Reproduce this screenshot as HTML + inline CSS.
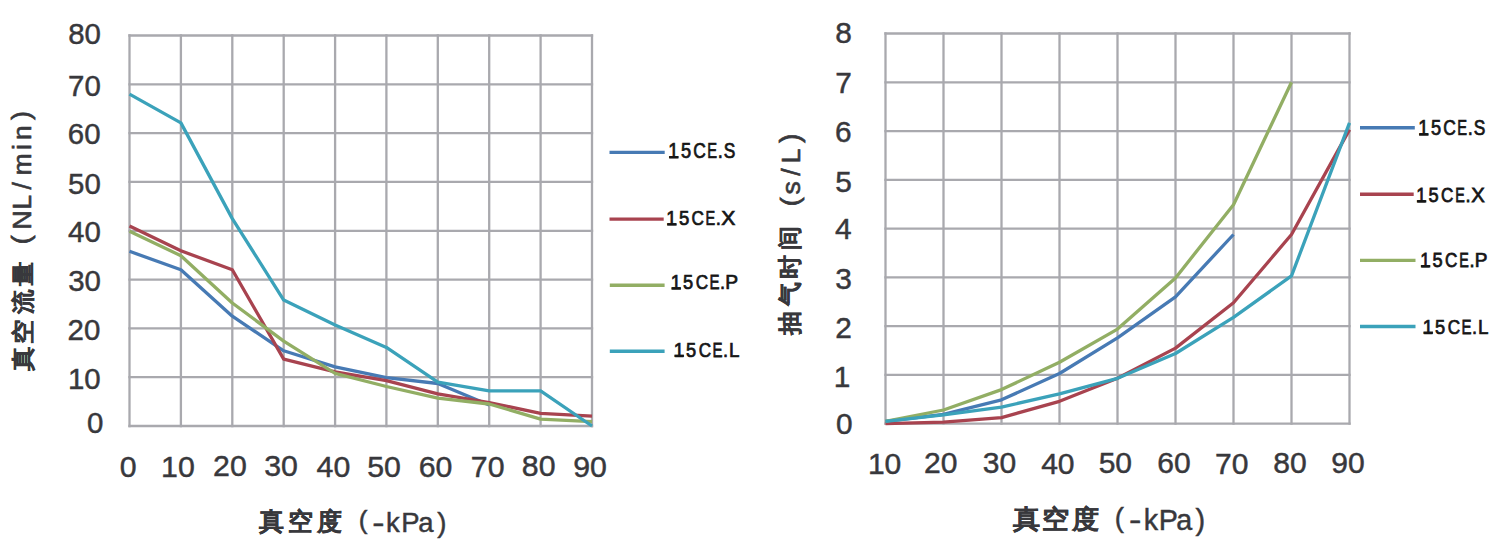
<!DOCTYPE html><html><head><meta charset="utf-8"><style>html,body{margin:0;padding:0;background:#fff;width:1500px;height:541px;overflow:hidden}svg{display:block}text{font-family:"Liberation Sans",sans-serif}</style></head><body>
<svg width="1500" height="541" viewBox="0 0 1500 541">
<g stroke="#a9a9ae" stroke-width="2.3" stroke-linecap="square"><line x1="129.5" y1="35.5" x2="129.5" y2="426.0"/><line x1="180.9" y1="35.5" x2="180.9" y2="426.0"/><line x1="232.3" y1="35.5" x2="232.3" y2="426.0"/><line x1="283.7" y1="35.5" x2="283.7" y2="426.0"/><line x1="335.1" y1="35.5" x2="335.1" y2="426.0"/><line x1="386.4" y1="35.5" x2="386.4" y2="426.0"/><line x1="437.8" y1="35.5" x2="437.8" y2="426.0"/><line x1="489.2" y1="35.5" x2="489.2" y2="426.0"/><line x1="540.6" y1="35.5" x2="540.6" y2="426.0"/><line x1="592.0" y1="35.5" x2="592.0" y2="426.0"/><line x1="129.5" y1="35.5" x2="592.0" y2="35.5"/><line x1="129.5" y1="84.3" x2="592.0" y2="84.3"/><line x1="129.5" y1="133.1" x2="592.0" y2="133.1"/><line x1="129.5" y1="181.9" x2="592.0" y2="181.9"/><line x1="129.5" y1="230.8" x2="592.0" y2="230.8"/><line x1="129.5" y1="279.6" x2="592.0" y2="279.6"/><line x1="129.5" y1="328.4" x2="592.0" y2="328.4"/><line x1="129.5" y1="377.2" x2="592.0" y2="377.2"/><line x1="129.5" y1="426.0" x2="592.0" y2="426.0"/></g>
<g stroke="#a9a9ae" stroke-width="2.3" stroke-linecap="square"><line x1="885.5" y1="33.5" x2="885.5" y2="423.7"/><line x1="943.5" y1="33.5" x2="943.5" y2="423.7"/><line x1="1001.5" y1="33.5" x2="1001.5" y2="423.7"/><line x1="1059.5" y1="33.5" x2="1059.5" y2="423.7"/><line x1="1117.5" y1="33.5" x2="1117.5" y2="423.7"/><line x1="1175.5" y1="33.5" x2="1175.5" y2="423.7"/><line x1="1233.5" y1="33.5" x2="1233.5" y2="423.7"/><line x1="1291.5" y1="33.5" x2="1291.5" y2="423.7"/><line x1="1349.5" y1="33.5" x2="1349.5" y2="423.7"/><line x1="885.5" y1="33.5" x2="1349.5" y2="33.5"/><line x1="885.5" y1="82.3" x2="1349.5" y2="82.3"/><line x1="885.5" y1="131.1" x2="1349.5" y2="131.1"/><line x1="885.5" y1="179.8" x2="1349.5" y2="179.8"/><line x1="885.5" y1="228.6" x2="1349.5" y2="228.6"/><line x1="885.5" y1="277.4" x2="1349.5" y2="277.4"/><line x1="885.5" y1="326.1" x2="1349.5" y2="326.1"/><line x1="885.5" y1="374.9" x2="1349.5" y2="374.9"/><line x1="885.5" y1="423.7" x2="1349.5" y2="423.7"/></g>
<polyline fill="none" stroke="#477ab4" stroke-width="3.3" stroke-linejoin="round" points="129.5,251.3 180.9,269.8 232.3,316.2 283.7,350.8 335.1,366.9 386.4,377.7 437.8,383.5 489.2,405.0"/>
<polyline fill="none" stroke="#a8434f" stroke-width="3.3" stroke-linejoin="round" points="129.5,225.9 180.9,250.8 232.3,269.8 283.7,359.1 335.1,371.8 386.4,380.6 437.8,393.8 489.2,402.6 540.6,413.3 592.0,416.2"/>
<polyline fill="none" stroke="#92ae64" stroke-width="3.3" stroke-linejoin="round" points="129.5,231.2 180.9,255.7 232.3,303.0 283.7,341.1 335.1,373.3 386.4,386.5 437.8,398.2 489.2,404.0 540.6,419.2 592.0,421.6"/>
<polyline fill="none" stroke="#3ba2ba" stroke-width="3.3" stroke-linejoin="round" points="129.5,94.1 180.9,122.9 232.3,218.6 283.7,300.1 335.1,325.0 386.4,347.4 437.8,382.1 489.2,390.9 540.6,390.9 592.0,426.0"/>
<polyline fill="none" stroke="#477ab4" stroke-width="3.3" stroke-linejoin="round" points="885.5,421.3 943.5,414.4 1001.5,399.8 1059.5,373.5 1117.5,337.9 1175.5,296.9 1233.5,234.5"/>
<polyline fill="none" stroke="#a8434f" stroke-width="3.3" stroke-linejoin="round" points="885.5,423.7 943.5,422.2 1001.5,417.6 1059.5,401.3 1117.5,378.3 1175.5,348.1 1233.5,302.7 1291.5,234.5 1349.5,129.6"/>
<polyline fill="none" stroke="#92ae64" stroke-width="3.3" stroke-linejoin="round" points="885.5,421.3 943.5,410.0 1001.5,389.6 1059.5,362.2 1117.5,329.1 1175.5,277.9 1233.5,204.7 1291.5,82.3"/>
<polyline fill="none" stroke="#3ba2ba" stroke-width="3.3" stroke-linejoin="round" points="885.5,421.3 943.5,414.9 1001.5,407.1 1059.5,393.9 1117.5,378.3 1175.5,353.5 1233.5,317.4 1291.5,275.9 1349.5,122.8"/>
<line x1="609.5" y1="152.4" x2="664.7" y2="152.4" stroke="#477ab4" stroke-width="3.4"/>
<line x1="609.5" y1="219.1" x2="663.7" y2="219.1" stroke="#a8434f" stroke-width="3.4"/>
<line x1="609.8" y1="285.3" x2="664.6" y2="285.3" stroke="#92ae64" stroke-width="3.4"/>
<line x1="609.8" y1="351.3" x2="664.6" y2="351.3" stroke="#3ba2ba" stroke-width="3.4"/>
<line x1="1360.0" y1="127.7" x2="1414.8" y2="127.7" stroke="#477ab4" stroke-width="3.4"/>
<line x1="1360.0" y1="194.3" x2="1413.7" y2="194.3" stroke="#a8434f" stroke-width="3.4"/>
<line x1="1360.0" y1="260.4" x2="1415.5" y2="260.4" stroke="#92ae64" stroke-width="3.4"/>
<line x1="1360.0" y1="326.5" x2="1415.5" y2="326.5" stroke="#3ba2ba" stroke-width="3.4"/>
<text transform="translate(84.55,44.11) scale(1.0300,1)" text-anchor="middle" font-size="28.60" fill="#38383c" stroke="#38383c" stroke-width="0.45">80</text>
<text transform="translate(84.45,95.70) scale(1.0300,1)" text-anchor="middle" font-size="28.60" fill="#38383c" stroke="#38383c" stroke-width="0.45">70</text>
<text transform="translate(84.16,143.54) scale(1.0300,1)" text-anchor="middle" font-size="28.60" fill="#38383c" stroke="#38383c" stroke-width="0.45">60</text>
<text transform="translate(84.39,193.52) scale(1.0300,1)" text-anchor="middle" font-size="28.60" fill="#38383c" stroke="#38383c" stroke-width="0.45">50</text>
<text transform="translate(84.39,241.62) scale(1.0300,1)" text-anchor="middle" font-size="28.60" fill="#38383c" stroke="#38383c" stroke-width="0.45">40</text>
<text transform="translate(84.54,290.66) scale(1.0300,1)" text-anchor="middle" font-size="28.60" fill="#38383c" stroke="#38383c" stroke-width="0.45">30</text>
<text transform="translate(83.89,339.63) scale(1.0300,1)" text-anchor="middle" font-size="28.60" fill="#38383c" stroke="#38383c" stroke-width="0.45">20</text>
<text transform="translate(84.34,388.58) scale(1.0300,1)" text-anchor="middle" font-size="28.60" fill="#38383c" stroke="#38383c" stroke-width="0.45">10</text>
<text transform="translate(95.26,433.42) scale(1.0300,1)" text-anchor="middle" font-size="28.60" fill="#38383c" stroke="#38383c" stroke-width="0.45">0</text>
<text transform="translate(843.45,43.14) scale(1.0300,1)" text-anchor="middle" font-size="29.00" fill="#38383c" stroke="#38383c" stroke-width="0.45">8</text>
<text transform="translate(843.47,92.72) scale(1.0300,1)" text-anchor="middle" font-size="29.00" fill="#38383c" stroke="#38383c" stroke-width="0.45">7</text>
<text transform="translate(843.33,142.27) scale(1.0300,1)" text-anchor="middle" font-size="29.00" fill="#38383c" stroke="#38383c" stroke-width="0.45">6</text>
<text transform="translate(843.58,191.72) scale(1.0300,1)" text-anchor="middle" font-size="29.00" fill="#38383c" stroke="#38383c" stroke-width="0.45">5</text>
<text transform="translate(843.43,239.20) scale(1.0300,1)" text-anchor="middle" font-size="29.00" fill="#38383c" stroke="#38383c" stroke-width="0.45">4</text>
<text transform="translate(843.55,288.67) scale(1.0300,1)" text-anchor="middle" font-size="29.00" fill="#38383c" stroke="#38383c" stroke-width="0.45">3</text>
<text transform="translate(843.45,337.79) scale(1.0300,1)" text-anchor="middle" font-size="29.00" fill="#38383c" stroke="#38383c" stroke-width="0.45">2</text>
<text transform="translate(841.99,387.44) scale(1.0300,1)" text-anchor="middle" font-size="29.00" fill="#38383c" stroke="#38383c" stroke-width="0.45">1</text>
<text transform="translate(844.19,434.45) scale(1.0300,1)" text-anchor="middle" font-size="29.00" fill="#38383c" stroke="#38383c" stroke-width="0.45">0</text>
<text transform="translate(128.10,476.52) scale(1.0100,1)" text-anchor="middle" font-size="30.00" fill="#38383c" stroke="#38383c" stroke-width="0.45">0</text>
<text transform="translate(177.92,476.52) scale(1.0100,1)" text-anchor="middle" font-size="30.00" fill="#38383c" stroke="#38383c" stroke-width="0.45">10</text>
<text transform="translate(229.89,476.30) scale(1.0100,1)" text-anchor="middle" font-size="30.00" fill="#38383c" stroke="#38383c" stroke-width="0.45">20</text>
<text transform="translate(281.11,476.33) scale(1.0100,1)" text-anchor="middle" font-size="30.00" fill="#38383c" stroke="#38383c" stroke-width="0.45">30</text>
<text transform="translate(333.38,476.52) scale(1.0100,1)" text-anchor="middle" font-size="30.00" fill="#38383c" stroke="#38383c" stroke-width="0.45">40</text>
<text transform="translate(384.12,476.57) scale(1.0100,1)" text-anchor="middle" font-size="30.00" fill="#38383c" stroke="#38383c" stroke-width="0.45">50</text>
<text transform="translate(435.61,476.89) scale(1.0100,1)" text-anchor="middle" font-size="30.00" fill="#38383c" stroke="#38383c" stroke-width="0.45">60</text>
<text transform="translate(487.64,476.52) scale(1.0100,1)" text-anchor="middle" font-size="30.00" fill="#38383c" stroke="#38383c" stroke-width="0.45">70</text>
<text transform="translate(538.69,476.29) scale(1.0100,1)" text-anchor="middle" font-size="30.00" fill="#38383c" stroke="#38383c" stroke-width="0.45">80</text>
<text transform="translate(590.00,476.93) scale(1.0100,1)" text-anchor="middle" font-size="30.00" fill="#38383c" stroke="#38383c" stroke-width="0.45">90</text>
<text transform="translate(884.59,473.61) scale(1.0300,1)" text-anchor="middle" font-size="29.20" fill="#38383c" stroke="#38383c" stroke-width="0.45">10</text>
<text transform="translate(940.68,473.40) scale(1.0300,1)" text-anchor="middle" font-size="29.20" fill="#38383c" stroke="#38383c" stroke-width="0.45">20</text>
<text transform="translate(999.48,473.27) scale(1.0300,1)" text-anchor="middle" font-size="29.20" fill="#38383c" stroke="#38383c" stroke-width="0.45">30</text>
<text transform="translate(1057.85,473.63) scale(1.0300,1)" text-anchor="middle" font-size="29.20" fill="#38383c" stroke="#38383c" stroke-width="0.45">40</text>
<text transform="translate(1115.35,472.86) scale(1.0300,1)" text-anchor="middle" font-size="29.20" fill="#38383c" stroke="#38383c" stroke-width="0.45">50</text>
<text transform="translate(1173.96,473.23) scale(1.0300,1)" text-anchor="middle" font-size="29.20" fill="#38383c" stroke="#38383c" stroke-width="0.45">60</text>
<text transform="translate(1231.83,473.63) scale(1.0300,1)" text-anchor="middle" font-size="29.20" fill="#38383c" stroke="#38383c" stroke-width="0.45">70</text>
<text transform="translate(1289.87,473.06) scale(1.0300,1)" text-anchor="middle" font-size="29.20" fill="#38383c" stroke="#38383c" stroke-width="0.45">80</text>
<text transform="translate(1347.95,473.23) scale(1.0300,1)" text-anchor="middle" font-size="29.20" fill="#38383c" stroke="#38383c" stroke-width="0.45">90</text>
<text transform="translate(271.69,530.37) scale(0.9988,1)" text-anchor="middle" font-size="24.85" fill="#38383c" font-weight="bold" stroke="#38383c" stroke-width="0.25">真</text>
<text transform="translate(300.64,530.37) scale(0.9988,1)" text-anchor="middle" font-size="24.85" fill="#38383c" font-weight="bold" stroke="#38383c" stroke-width="0.25">空</text>
<text transform="translate(329.44,530.37) scale(0.9988,1)" text-anchor="middle" font-size="24.85" fill="#38383c" font-weight="bold" stroke="#38383c" stroke-width="0.25">度</text>
<text transform="translate(363.07,529.20)" text-anchor="middle" font-size="26.17" fill="#38383c" stroke="#38383c" stroke-width="0.45">(</text>
<text transform="translate(378.40,532.36) scale(1.3377,1)" text-anchor="middle" font-size="27.49" fill="#38383c" stroke="#38383c" stroke-width="0.45">-</text>
<text transform="translate(392.97,532.36)" text-anchor="middle" font-size="27.49" fill="#38383c" stroke="#38383c" stroke-width="0.45">k</text>
<text transform="translate(410.33,532.36)" text-anchor="middle" font-size="27.49" fill="#38383c" stroke="#38383c" stroke-width="0.45">P</text>
<text transform="translate(425.77,532.36)" text-anchor="middle" font-size="27.49" fill="#38383c" stroke="#38383c" stroke-width="0.45">a</text>
<text transform="translate(441.93,532.32)" text-anchor="middle" font-size="27.61" fill="#38383c" stroke="#38383c" stroke-width="0.45">)</text>
<text transform="translate(1026.57,528.15) scale(1.0454,1)" text-anchor="middle" font-size="25.57" fill="#38383c" font-weight="bold" stroke="#38383c" stroke-width="0.25">真</text>
<text transform="translate(1055.43,528.15) scale(1.0454,1)" text-anchor="middle" font-size="25.57" fill="#38383c" font-weight="bold" stroke="#38383c" stroke-width="0.25">空</text>
<text transform="translate(1085.71,528.15) scale(1.0454,1)" text-anchor="middle" font-size="25.57" fill="#38383c" font-weight="bold" stroke="#38383c" stroke-width="0.25">度</text>
<text transform="translate(1119.45,527.40)" text-anchor="middle" font-size="27.47" fill="#38383c" stroke="#38383c" stroke-width="0.45">(</text>
<text transform="translate(1135.27,529.88) scale(1.2969,1)" text-anchor="middle" font-size="28.69" fill="#38383c" stroke="#38383c" stroke-width="0.45">-</text>
<text transform="translate(1150.89,529.88)" text-anchor="middle" font-size="28.69" fill="#38383c" stroke="#38383c" stroke-width="0.45">k</text>
<text transform="translate(1168.36,529.88)" text-anchor="middle" font-size="28.69" fill="#38383c" stroke="#38383c" stroke-width="0.45">P</text>
<text transform="translate(1184.20,529.88)" text-anchor="middle" font-size="28.69" fill="#38383c" stroke="#38383c" stroke-width="0.45">a</text>
<text transform="translate(1200.21,529.68)" text-anchor="middle" font-size="28.97" fill="#38383c" stroke="#38383c" stroke-width="0.45">)</text>
<text transform="translate(31.47,359.00) rotate(-90) scale(1.0640,1)" text-anchor="middle" font-size="23.20" fill="#38383c" font-weight="bold" stroke="#38383c" stroke-width="0.25">真</text>
<text transform="translate(31.47,331.46) rotate(-90) scale(1.0640,1)" text-anchor="middle" font-size="23.20" fill="#38383c" font-weight="bold" stroke="#38383c" stroke-width="0.25">空</text>
<text transform="translate(31.47,301.37) rotate(-90) scale(1.0640,1)" text-anchor="middle" font-size="23.20" fill="#38383c" font-weight="bold" stroke="#38383c" stroke-width="0.25">流</text>
<text transform="translate(31.47,274.07) rotate(-90) scale(1.0640,1)" text-anchor="middle" font-size="23.20" fill="#38383c" font-weight="bold" stroke="#38383c" stroke-width="0.25">量</text>
<text transform="translate(29.77,239.89) rotate(-90)" text-anchor="middle" font-size="26.59" fill="#38383c" stroke="#38383c" stroke-width="0.80">(</text>
<text transform="translate(31.04,219.89) rotate(-90)" text-anchor="middle" font-size="26.37" fill="#38383c" stroke="#38383c" stroke-width="0.60">N</text>
<text transform="translate(31.04,202.24) rotate(-90)" text-anchor="middle" font-size="26.37" fill="#38383c" stroke="#38383c" stroke-width="0.60">L</text>
<text transform="translate(31.04,185.85) rotate(-90)" text-anchor="middle" font-size="26.37" fill="#38383c" stroke="#38383c" stroke-width="0.60">/</text>
<text transform="translate(31.04,164.20) rotate(-90)" text-anchor="middle" font-size="26.37" fill="#38383c" stroke="#38383c" stroke-width="0.60">m</text>
<text transform="translate(31.04,147.09) rotate(-90)" text-anchor="middle" font-size="26.37" fill="#38383c" stroke="#38383c" stroke-width="0.60">i</text>
<text transform="translate(31.04,132.68) rotate(-90)" text-anchor="middle" font-size="26.37" fill="#38383c" stroke="#38383c" stroke-width="0.60">n</text>
<text transform="translate(30.05,115.41) rotate(-90)" text-anchor="middle" font-size="25.51" fill="#38383c" stroke="#38383c" stroke-width="0.80">)</text>
<text transform="translate(798.30,323.21) rotate(-90) scale(0.9978,1)" text-anchor="middle" font-size="23.96" fill="#38383c" font-weight="bold" stroke="#38383c" stroke-width="0.25">抽</text>
<text transform="translate(798.30,294.28) rotate(-90) scale(0.9978,1)" text-anchor="middle" font-size="23.96" fill="#38383c" font-weight="bold" stroke="#38383c" stroke-width="0.25">气</text>
<text transform="translate(798.30,267.51) rotate(-90) scale(0.9978,1)" text-anchor="middle" font-size="23.96" fill="#38383c" font-weight="bold" stroke="#38383c" stroke-width="0.25">时</text>
<text transform="translate(798.30,237.85) rotate(-90) scale(0.9978,1)" text-anchor="middle" font-size="23.96" fill="#38383c" font-weight="bold" stroke="#38383c" stroke-width="0.25">间</text>
<text transform="translate(798.66,201.82) rotate(-90)" text-anchor="middle" font-size="26.65" fill="#38383c" stroke="#38383c" stroke-width="0.80">(</text>
<text transform="translate(800.12,187.82) rotate(-90)" text-anchor="middle" font-size="26.62" fill="#38383c" stroke="#38383c" stroke-width="0.60">s</text>
<text transform="translate(800.12,172.10) rotate(-90)" text-anchor="middle" font-size="26.62" fill="#38383c" stroke="#38383c" stroke-width="0.60">/</text>
<text transform="translate(800.12,156.09) rotate(-90)" text-anchor="middle" font-size="26.62" fill="#38383c" stroke="#38383c" stroke-width="0.60">L</text>
<text transform="translate(798.71,138.34) rotate(-90)" text-anchor="middle" font-size="26.90" fill="#38383c" stroke="#38383c" stroke-width="0.80">)</text>
<text transform="translate(673.49,158.21) scale(0.8868,1)" text-anchor="middle" font-size="21.20" fill="#161616" stroke="#161616" stroke-width="0.75">1</text>
<text transform="translate(686.01,158.21) scale(0.8599,1)" text-anchor="middle" font-size="21.20" fill="#161616" stroke="#161616" stroke-width="0.75">5</text>
<text transform="translate(699.57,158.21) scale(0.8225,1)" text-anchor="middle" font-size="21.20" fill="#161616" stroke="#161616" stroke-width="0.75">C</text>
<text transform="translate(712.14,158.21) scale(0.6933,1)" text-anchor="middle" font-size="21.20" fill="#161616" stroke="#161616" stroke-width="0.75">E</text>
<text transform="translate(720.19,158.21) scale(0.8599,1)" text-anchor="middle" font-size="21.20" fill="#161616" stroke="#161616" stroke-width="0.75">.</text>
<text transform="translate(729.51,158.21) scale(0.8188,1)" text-anchor="middle" font-size="21.20" fill="#161616" stroke="#161616" stroke-width="0.75">S</text>
<text transform="translate(671.54,225.01) scale(0.9135,1)" text-anchor="middle" font-size="20.37" fill="#161616" stroke="#161616" stroke-width="0.75">1</text>
<text transform="translate(684.05,225.01) scale(0.9099,1)" text-anchor="middle" font-size="20.37" fill="#161616" stroke="#161616" stroke-width="0.75">5</text>
<text transform="translate(697.71,225.01) scale(0.8432,1)" text-anchor="middle" font-size="20.37" fill="#161616" stroke="#161616" stroke-width="0.75">C</text>
<text transform="translate(710.42,225.01) scale(0.7112,1)" text-anchor="middle" font-size="20.37" fill="#161616" stroke="#161616" stroke-width="0.75">E</text>
<text transform="translate(718.30,225.01) scale(0.9099,1)" text-anchor="middle" font-size="20.37" fill="#161616" stroke="#161616" stroke-width="0.75">.</text>
<text transform="translate(728.30,225.01) scale(1.0374,1)" text-anchor="middle" font-size="20.37" fill="#161616" stroke="#161616" stroke-width="0.75">X</text>
<text transform="translate(675.89,289.36) scale(0.9000,1)" text-anchor="middle" font-size="20.69" fill="#161616" stroke="#161616" stroke-width="0.75">1</text>
<text transform="translate(688.19,289.36) scale(0.8818,1)" text-anchor="middle" font-size="20.69" fill="#161616" stroke="#161616" stroke-width="0.75">5</text>
<text transform="translate(701.87,289.36) scale(0.8303,1)" text-anchor="middle" font-size="20.69" fill="#161616" stroke="#161616" stroke-width="0.75">C</text>
<text transform="translate(714.50,289.36) scale(0.7243,1)" text-anchor="middle" font-size="20.69" fill="#161616" stroke="#161616" stroke-width="0.75">E</text>
<text transform="translate(722.62,289.36) scale(0.8818,1)" text-anchor="middle" font-size="20.69" fill="#161616" stroke="#161616" stroke-width="0.75">.</text>
<text transform="translate(731.64,289.36) scale(0.9300,1)" text-anchor="middle" font-size="20.69" fill="#161616" stroke="#161616" stroke-width="0.75">P</text>
<text transform="translate(678.89,356.52) scale(0.9000,1)" text-anchor="middle" font-size="20.69" fill="#161616" stroke="#161616" stroke-width="0.75">1</text>
<text transform="translate(691.19,356.52) scale(0.8818,1)" text-anchor="middle" font-size="20.69" fill="#161616" stroke="#161616" stroke-width="0.75">5</text>
<text transform="translate(704.87,356.52) scale(0.8303,1)" text-anchor="middle" font-size="20.69" fill="#161616" stroke="#161616" stroke-width="0.75">C</text>
<text transform="translate(717.50,356.52) scale(0.7243,1)" text-anchor="middle" font-size="20.69" fill="#161616" stroke="#161616" stroke-width="0.75">E</text>
<text transform="translate(725.62,356.52) scale(0.8818,1)" text-anchor="middle" font-size="20.69" fill="#161616" stroke="#161616" stroke-width="0.75">.</text>
<text transform="translate(734.33,356.52) scale(0.9074,1)" text-anchor="middle" font-size="20.69" fill="#161616" stroke="#161616" stroke-width="0.75">L</text>
<text transform="translate(1423.49,135.29) scale(0.8868,1)" text-anchor="middle" font-size="21.20" fill="#161616" stroke="#161616" stroke-width="0.75">1</text>
<text transform="translate(1436.01,135.29) scale(0.8599,1)" text-anchor="middle" font-size="21.20" fill="#161616" stroke="#161616" stroke-width="0.75">5</text>
<text transform="translate(1449.57,135.29) scale(0.8225,1)" text-anchor="middle" font-size="21.20" fill="#161616" stroke="#161616" stroke-width="0.75">C</text>
<text transform="translate(1462.14,135.29) scale(0.6933,1)" text-anchor="middle" font-size="21.20" fill="#161616" stroke="#161616" stroke-width="0.75">E</text>
<text transform="translate(1470.19,135.29) scale(0.8599,1)" text-anchor="middle" font-size="21.20" fill="#161616" stroke="#161616" stroke-width="0.75">.</text>
<text transform="translate(1479.51,135.29) scale(0.8188,1)" text-anchor="middle" font-size="21.20" fill="#161616" stroke="#161616" stroke-width="0.75">S</text>
<text transform="translate(1421.27,201.99) scale(0.8878,1)" text-anchor="middle" font-size="20.16" fill="#161616" stroke="#161616" stroke-width="0.75">1</text>
<text transform="translate(1433.61,201.99) scale(0.9034,1)" text-anchor="middle" font-size="20.16" fill="#161616" stroke="#161616" stroke-width="0.75">5</text>
<text transform="translate(1447.25,201.99) scale(0.8490,1)" text-anchor="middle" font-size="20.16" fill="#161616" stroke="#161616" stroke-width="0.75">C</text>
<text transform="translate(1459.96,201.99) scale(0.7099,1)" text-anchor="middle" font-size="20.16" fill="#161616" stroke="#161616" stroke-width="0.75">E</text>
<text transform="translate(1467.91,201.99) scale(0.9034,1)" text-anchor="middle" font-size="20.16" fill="#161616" stroke="#161616" stroke-width="0.75">.</text>
<text transform="translate(1477.93,201.99) scale(1.0083,1)" text-anchor="middle" font-size="20.16" fill="#161616" stroke="#161616" stroke-width="0.75">X</text>
<text transform="translate(1425.27,266.83) scale(0.8878,1)" text-anchor="middle" font-size="20.16" fill="#161616" stroke="#161616" stroke-width="0.75">1</text>
<text transform="translate(1437.61,266.83) scale(0.9034,1)" text-anchor="middle" font-size="20.16" fill="#161616" stroke="#161616" stroke-width="0.75">5</text>
<text transform="translate(1451.25,266.83) scale(0.8490,1)" text-anchor="middle" font-size="20.16" fill="#161616" stroke="#161616" stroke-width="0.75">C</text>
<text transform="translate(1463.96,266.83) scale(0.7099,1)" text-anchor="middle" font-size="20.16" fill="#161616" stroke="#161616" stroke-width="0.75">E</text>
<text transform="translate(1471.91,266.83) scale(0.9034,1)" text-anchor="middle" font-size="20.16" fill="#161616" stroke="#161616" stroke-width="0.75">.</text>
<text transform="translate(1481.17,266.83) scale(0.9418,1)" text-anchor="middle" font-size="20.16" fill="#161616" stroke="#161616" stroke-width="0.75">P</text>
<text transform="translate(1427.89,333.54) scale(0.9000,1)" text-anchor="middle" font-size="20.69" fill="#161616" stroke="#161616" stroke-width="0.75">1</text>
<text transform="translate(1440.19,333.54) scale(0.8818,1)" text-anchor="middle" font-size="20.69" fill="#161616" stroke="#161616" stroke-width="0.75">5</text>
<text transform="translate(1453.87,333.54) scale(0.8303,1)" text-anchor="middle" font-size="20.69" fill="#161616" stroke="#161616" stroke-width="0.75">C</text>
<text transform="translate(1466.50,333.54) scale(0.7243,1)" text-anchor="middle" font-size="20.69" fill="#161616" stroke="#161616" stroke-width="0.75">E</text>
<text transform="translate(1474.62,333.54) scale(0.8818,1)" text-anchor="middle" font-size="20.69" fill="#161616" stroke="#161616" stroke-width="0.75">.</text>
<text transform="translate(1483.33,333.54) scale(0.9074,1)" text-anchor="middle" font-size="20.69" fill="#161616" stroke="#161616" stroke-width="0.75">L</text>
<rect x="669.1" y="156.1" width="9.4" height="2.3" fill="#161616"/>
<rect x="667.2" y="223.3" width="9.4" height="2.3" fill="#161616"/>
<rect x="671.5" y="287.4" width="9.4" height="2.3" fill="#161616"/>
<rect x="674.5" y="354.6" width="9.4" height="2.3" fill="#161616"/>
<rect x="1419.1" y="133.4" width="9.4" height="2.3" fill="#161616"/>
<rect x="1416.9" y="200.2" width="9.4" height="2.3" fill="#161616"/>
<rect x="1420.9" y="265.1" width="9.4" height="2.3" fill="#161616"/>
<rect x="1423.5" y="331.5" width="9.4" height="2.3" fill="#161616"/>
</svg></body></html>
